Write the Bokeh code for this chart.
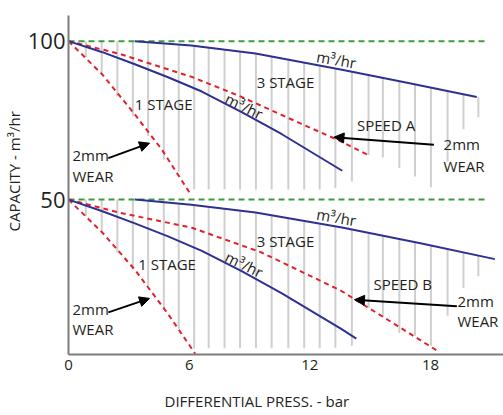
from bokeh.plotting import figure
from bokeh.models import Range1d, FixedTicker, Arrow, NormalHead, Title, ColumnDataSource
from bokeh.embed import file_html
from bokeh.resources import INLINE
from bokeh.core.properties import value

# ---------------- data ----------------
x_ticks = [0, 6, 12, 18]
y_ticks = [50, 100]

# green reference lines (capacity at zero pressure)
ref_x = [0, 20.84]
ref_top_y = [100, 100]
ref_bot_y = [50, 50]

# SPEED A (top group)
a_3stage_x = [3.3, 6.1, 9.3, 13.6, 16.9, 20.3]
a_3stage_y = [100, 98.6, 96.1, 91.0, 86.8, 82.4]
a_1stage_x = [0, 1.65, 3.3, 4.95, 6.63, 8.61, 10.59, 13.61]
a_1stage_y = [100, 96.6, 92.7, 88.6, 84.1, 77.6, 70.7, 59.1]
a_3wear_x = [0, 2.51, 6.14, 8.61, 11.58, 13.4, 14.89]
a_3wear_y = [100, 96.05, 88.7, 82.4, 73.9, 68.8, 64.1]
a_1wear_x = [0, 1.68, 3.32, 4.65, 6.05]
a_1wear_y = [100, 89.5, 76.7, 65.7, 51.9]

# SPEED B (bottom group)
b_3stage_x = [3.3, 6.1, 9.3, 13.6, 17.5, 21.2]
b_3stage_y = [50, 48.4, 45.9, 41.2, 36.2, 31.2]
b_1stage_x = [0, 1.65, 3.3, 4.95, 6.63, 8.61, 10.59, 13.56, 14.31]
b_1stage_y = [50, 46.4, 42.5, 38.4, 33.8, 27.4, 20.5, 9.2, 6.1]
b_3wear_x = [0, 2.51, 6.14, 9.6, 13.56, 16.04, 18.43]
b_3wear_y = [50, 45.9, 41.1, 33.3, 21.2, 11.4, 1.9]
b_1wear_x = [0, 1.68, 3.32, 4.95, 6.3]
b_1wear_y = [50, 39.6, 27.7, 13.9, 1.35]

# vertical hatch lines
hatch_x = [0.86, 1.65, 2.43, 3.20, 3.96, 4.74, 5.48, 6.25, 6.97, 7.76, 8.53, 9.32, 10.10,
           10.93, 11.72, 12.49, 13.27, 14.09, 14.92, 15.63, 16.45, 17.23, 18.02, 18.85,
           19.64, 20.38]
a_hatch_top = [100, 100, 100, 100, 99.7, 99.3, 98.9, 98.5, 98.0, 97.4, 96.7, 96.1, 95.2,
               94.2, 93.2, 92.3, 91.4, 90.4, 89.3, 88.4, 87.4, 86.4, 85.3, 84.3, 83.3, 82.4]
a_hatch_bot = [95.0, 89.9, 82.6, 76.2, 70.1, 62.6, 58.8, 53.2, 53.2, 53.2, 53.2, 53.2, 53.2,
               53.2, 53.2, 53.2, 53.6, 55.7, 64.1, 63.3, 60.0, 57.3, 53.9, 62.0, 72.2, 76.0]
b_hatch_top = [50, 50, 50, 50, 49.8, 49.4, 48.9, 48.4, 47.8, 47.2, 46.5, 45.9, 45.0,
               44.1, 43.2, 42.2, 41.3, 40.5, 39.4, 38.5, 37.5, 36.5, 35.5, 34.3, 33.3, 32.3]
b_hatch_bot = [44.8, 39.6, 33.3, 28.0, 22.8, 15.5, 9.2, 2.9, 3.1, 3.1, 3.1, 3.1, 3.1,
               3.1, 3.1, 3.1, 3.2, 3.9, 15.8, 13.0, 7.9, 7.0, 3.9, 13.3, 22.1, 25.8]

# annotations
note_text = ["m³/hr", "3 STAGE", "1 STAGE", "m³/hr", "SPEED A", "2mm", "WEAR", "2mm", "WEAR",
             "m³/hr", "3 STAGE", "1 STAGE", "m³/hr", "SPEED B", "2mm", "WEAR", "2mm", "WEAR"]
note_x = [13.32, 10.79, 4.73, 8.74, 15.79, 18.65, 18.65, 0.2, 0.2,
          13.32, 10.79, 4.9, 8.74, 16.62, 19.34, 19.34, 0.2, 0.2]
note_y = [94.25, 87.1, 80.3, 79.5, 73.5, 67.4, 60.7, 64.1, 57.3,
          44.5, 36.9, 29.6, 29.6, 23.3, 18.1, 11.55, 15.5, 9.2]
note_angle = [-0.17, 0, 0, -0.45, 0, 0, 0, 0, 0,
              -0.17, 0, 0, -0.45, 0, 0, 0, 0, 0]
note_align = ["center", "center", "center", "center", "center", "left", "left", "left", "left",
              "center", "center", "center", "center", "center", "left", "left", "left", "left"]

# arrows: (tail x, tail y, tip x, tip y)
arrow_x0 = [1.98, 18.17, 1.98, 19.31]
arrow_y0 = [63.1, 67.3, 14.4, 16.3]
arrow_x1 = [4.03, 13.2, 4.03, 14.22]
arrow_y1 = [67.8, 69.7, 18.8, 18.4]

x_title = "DIFFERENTIAL PRESS. - bar"
y_title = "CAPACITY - m³/hr"

# ---------------- styling ----------------
FONT = "Open Sans"
TXT = "#231f20"
BLUE = "#2e3192"
RED = "#e0222e"
GREEN = "#3d9c40"
HATCH = "#cfcfcf"
AXIS = "#7d7d7d"

p = figure(width=503, height=415, output_backend="svg", toolbar_location=None,
           x_range=Range1d(0, 21.63), y_range=Range1d(1.1, 108.1),
           min_border_left=66, min_border_right=0, min_border_top=15, min_border_bottom=59)
p.outline_line_color = None
p.xgrid.visible = False
p.ygrid.visible = False
p.background_fill_color = "white"

for ax in (p.xaxis[0], p.yaxis[0]):
    ax.axis_line_color = AXIS
    ax.axis_line_width = 2
    ax.major_tick_in = 0
    ax.major_tick_out = 0
    ax.minor_tick_in = 0
    ax.minor_tick_out = 0
    ax.major_label_text_font = FONT
    ax.major_label_text_color = TXT
p.xaxis.ticker = FixedTicker(ticks=x_ticks)
p.yaxis.ticker = FixedTicker(ticks=y_ticks)
p.xaxis.major_label_text_font_size = "15px"
p.yaxis.major_label_text_font_size = "22px"
p.xaxis.major_label_standoff = 5
p.yaxis.major_label_standoff = 3
# small blank spacer below the tick labels, so the title sits lower
p.xaxis.axis_label = " "
p.xaxis.axis_label_text_font_size = "6px"
p.xaxis.axis_label_standoff = 2

# hatch
p.segment(x0=hatch_x, y0=a_hatch_top, x1=hatch_x, y1=a_hatch_bot, line_color=HATCH, line_width=2)
p.segment(x0=hatch_x, y0=b_hatch_top, x1=hatch_x, y1=b_hatch_bot, line_color=HATCH, line_width=2)

# reference lines
p.line(ref_x, ref_top_y, line_color=GREEN, line_width=2, line_dash="6 4")
p.line(ref_x, ref_bot_y, line_color=GREEN, line_width=2, line_dash="6 4")

# wear curves
for xs, ys in [(a_3wear_x, a_3wear_y), (a_1wear_x, a_1wear_y),
               (b_3wear_x, b_3wear_y), (b_1wear_x, b_1wear_y)]:
    p.line(xs, ys, line_color=RED, line_width=2, line_dash="5 4")

# stage curves
for xs, ys in [(a_3stage_x, a_3stage_y), (a_1stage_x, a_1stage_y),
               (b_3stage_x, b_3stage_y), (b_1stage_x, b_1stage_y)]:
    p.line(xs, ys, line_color=BLUE, line_width=2)

# arrows
for xa, ya, xb, yb in zip(arrow_x0, arrow_y0, arrow_x1, arrow_y1):
    p.add_layout(Arrow(x_start=xa, y_start=ya, x_end=xb, y_end=yb, line_width=2, line_color="black",
                       end=NormalHead(size=10, fill_color="black", line_color="black")))

src = ColumnDataSource(dict(x=note_x, y=note_y, t=note_text, a=note_angle, al=note_align))
p.text(x="x", y="y", text="t", angle="a", text_align="al", source=src,
       text_baseline="middle", text_font=value(FONT), text_font_size="15px", text_color=TXT)

# axis titles
p.add_layout(Title(text=y_title, align="left", offset=123, standoff=2, text_font=FONT,
                   text_font_size="15px", text_font_style="normal", text_color=TXT), "left")
p.add_layout(Title(text=x_title, align="left", offset=96, text_font=FONT,
                   text_font_size="15px", text_font_style="normal", text_color=TXT), "below")

open("out.html", "w").write(file_html(p, INLINE))
